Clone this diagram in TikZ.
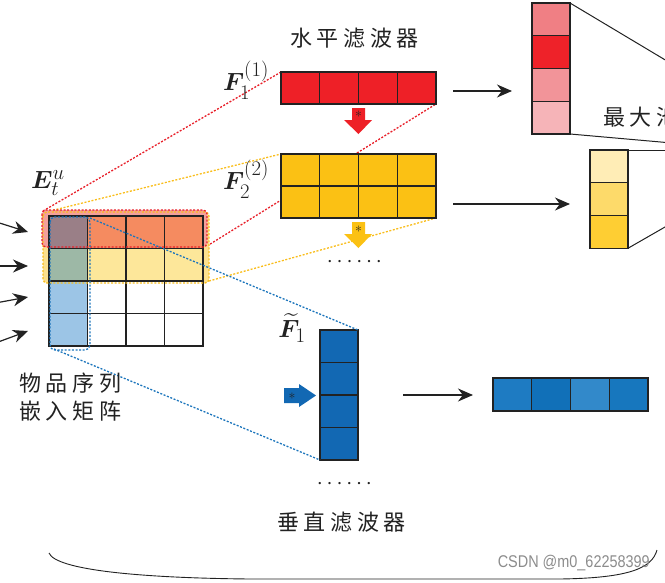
\documentclass[tikz,border=0pt]{standalone}
\usepackage{fontspec}
\usepackage{amsmath}
\usepackage{bm}
\usetikzlibrary{arrows.meta}
\DeclareMathSizes{26}{26}{21}{16}
\newfontfamily\cjk[LetterSpace=21]{Noto Sans CJK SC}
\newfontfamily\wmfont{Liberation Sans}
\newfontfamily\dotfont[LetterSpace=45]{Liberation Serif}
\definecolor{cOra}{HTML}{F58B60}
\definecolor{cPur}{HTML}{9A7F87}
\definecolor{cYel}{HTML}{FDE79A}
\definecolor{cGrn}{HTML}{9DB8A6}
\definecolor{cLbl}{HTML}{9CC5E6}
\definecolor{cRed}{HTML}{EE2027}
\definecolor{cYf}{HTML}{FBC114}
\definecolor{cBf}{HTML}{1268B3}
\definecolor{cO1}{HTML}{1E7BC2}
\definecolor{cO2}{HTML}{1170B8}
\definecolor{cO3}{HTML}{3289CA}
\definecolor{cO4}{HTML}{1777BE}
\definecolor{cR1}{HTML}{F07F84}
\definecolor{cR2}{HTML}{EE2229}
\definecolor{cR3}{HTML}{F29499}
\definecolor{cR4}{HTML}{F6B4B8}
\definecolor{cP1}{HTML}{FFEDB6}
\definecolor{cP2}{HTML}{FDDA6A}
\definecolor{cP3}{HTML}{FECE33}
\definecolor{cRd}{HTML}{E8202A}
\definecolor{cYd}{HTML}{F9BD1B}
\definecolor{cBd}{HTML}{1C75BC}
\definecolor{cRbg}{HTML}{F4A09A}
\definecolor{cYbg}{HTML}{FCE08E}
\definecolor{ink}{HTML}{222222}
\pgfdeclarelayer{bg}
\pgfsetlayers{bg,main}
\begin{document}
\begin{tikzpicture}[x=1pt,y=-1pt,
  cellbase/.style={draw=ink, line width=1.1pt, inner sep=0pt, outer sep=0pt, anchor=north west},
  ecell/.style={cellbase, minimum width=38.5pt, minimum height=32.5pt},
  hcell/.style={cellbase, minimum width=38.75pt, minimum height=32pt},
  vcell/.style={cellbase, minimum width=38pt, minimum height=32.5pt},
  ocell/.style={cellbase, minimum width=38.75pt, minimum height=33pt},
  pcell/.style={cellbase, minimum width=38pt, minimum height=32.75pt},
  dotline/.style={line width=1.3pt, dash pattern=on 2pt off 1.6pt},
  arr/.style={-{Stealth[length=15pt,width=13pt]}, line width=1.2pt, draw=ink},
  cjktext/.style={font=\fontsize{22}{28}\selectfont\cjk, text=ink, inner sep=0pt, anchor=west, align=left},
  mathlbl/.style={font=\fontsize{26}{30}\selectfont, text=ink, inner sep=0pt},
  star/.style={font=\fontsize{14}{14}\selectfont, text=ink, inner sep=0pt}
]
\useasboundingbox (0,0) rectangle (665,582);
\clip (0,0) rectangle (665,582);

% overlay box backgrounds
\fill[cYbg, rounded corners=4pt] (43,212) rectangle (209,283);
\fill[cRbg, rounded corners=4pt] (42,210) rectangle (207,247);

% embedding matrix
\node[ecell, fill=cPur] (e11) at (49,216) {};
\node[ecell, fill=cOra] (e12) at (87.5,216) {};
\node[ecell, fill=cOra] (e13) at (126,216) {};
\node[ecell, fill=cOra] (e14) at (164.5,216) {};
\node[ecell, fill=cGrn] (e21) at (49,248.5) {};
\node[ecell, fill=cYel] (e22) at (87.5,248.5) {};
\node[ecell, fill=cYel] (e23) at (126,248.5) {};
\node[ecell, fill=cYel] (e24) at (164.5,248.5) {};
\node[ecell, fill=cLbl] (e31) at (49,281) {};
\node[ecell, fill=white] (e32) at (87.5,281) {};
\node[ecell, fill=white] (e33) at (126,281) {};
\node[ecell, fill=white] (e34) at (164.5,281) {};
\node[ecell, fill=cLbl] (e41) at (49,313.5) {};
\node[ecell, fill=white] (e42) at (87.5,313.5) {};
\node[ecell, fill=white] (e43) at (126,313.5) {};
\node[ecell, fill=white] (e44) at (164.5,313.5) {};

% dotted outlines
\draw[dotline, cYd, rounded corners=4pt] (43,212) rectangle (209,283);
\draw[dotline, cRd, rounded corners=4pt] (42,210) rectangle (207,247);
\draw[dotline, cBd, rounded corners=5pt] (50,217) rectangle (90,350);
\coordinate (rNW) at (43,211);
\coordinate (rSE) at (207,246);
\coordinate (yNW) at (46,212);
\coordinate (ySE) at (209,281);
\coordinate (bNE) at (90,218);
\coordinate (bSW) at (54,349);

% horizontal filter 1
\node[hcell, fill=cRed] (h1) at (281,72) {};
\node[hcell, fill=cRed] (h2) at (319.75,72) {};
\node[hcell, fill=cRed] (h3) at (358.5,72) {};
\node[hcell, fill=cRed] (h4) at (397.25,72) {};
% horizontal filter 2
\node[hcell, fill=cYf] (f11) at (281,154) {};
\node[hcell, fill=cYf] (f12) at (319.75,154) {};
\node[hcell, fill=cYf] (f13) at (358.5,154) {};
\node[hcell, fill=cYf] (f14) at (397.25,154) {};
\node[hcell, fill=cYf] (f21) at (281,186) {};
\node[hcell, fill=cYf] (f22) at (319.75,186) {};
\node[hcell, fill=cYf] (f23) at (358.5,186) {};
\node[hcell, fill=cYf] (f24) at (397.25,186) {};

% vertical filter
\node[vcell, fill=cBf] (v1) at (320,330) {};
\node[vcell, fill=cBf] (v2) at (320,362.5) {};
\node[vcell, fill=cBf] (v3) at (320,395) {};
\node[vcell, fill=cBf] (v4) at (320,427.5) {};

% output row
\node[ocell, fill=cO1] (o1) at (493,378) {};
\node[ocell, fill=cO2] (o2) at (531.75,378) {};
\node[ocell, fill=cO3] (o3) at (570.5,378) {};
\node[ocell, fill=cO4] (o4) at (609.25,378) {};

% red column
\node[pcell, fill=cR1] (rc1) at (532,3) {};
\node[pcell, fill=cR2] (rc2) at (532,35.75) {};
\node[pcell, fill=cR3] (rc3) at (532,68.5) {};
\node[pcell, fill=cR4] (rc4) at (532,101.25) {};
% yellow column
\node[pcell, fill=cP1] (p1) at (590,150) {};
\node[pcell, fill=cP2] (p2) at (590,182.75) {};
\node[pcell, fill=cP3] (p3) at (590,215.5) {};

% projection lines (behind)
\begin{pgfonlayer}{bg}
\draw[dotline, cRd] (rNW) -- (h1.north west);
\draw[dotline, cRd] (rSE) -- (h4.south east);
\draw[dotline, cYd] (yNW) -- (f11.north west);
\draw[dotline, cYd] (ySE) -- (f24.south east);
\end{pgfonlayer}
\draw[dotline, cBd] (bNE) -- (v1.north east);
\draw[dotline, cBd] (bSW) -- (v4.south west);

% pooling lines
\coordinate (t1) at (672,64);
\coordinate (t2) at (672,143);
\coordinate (t3) at (672,150);
\coordinate (t4) at (672,223);
\draw[ink, line width=1pt] (rc1.north east) -- (t1);
\draw[ink, line width=1pt] (rc4.south east) -- (t2);
\draw[ink, line width=1pt] (p1.north east) -- (t3);
\draw[ink, line width=1pt] (p3.south east) -- (t4);

% block arrows with *
\fill[cRed] (352,108) -- (365,108) -- (365,120) -- (372,120) -- (358.5,134) -- (344,120) -- (352,120) -- cycle;
\node[star] (s1) at (358.5,116) {*};
\fill[cYf] (352,222) -- (365,222) -- (365,234) -- (372,234) -- (358.5,248) -- (344,234) -- (352,234) -- cycle;
\node[star] (s2) at (358.5,231) {*};
\fill[cBf] (284,388) -- (299,388) -- (299,384) -- (316,395.5) -- (299,407) -- (299,403) -- (284,403) -- cycle;
\node[star] (s3) at (292,398) {*};

% arrows
\draw[arr, shorten <=17pt, shorten >=20pt] ([yshift=-3pt]h4.east) -- ([yshift=-3pt]h4.east -| rc1.west);
\draw[arr, shorten <=17pt, shorten >=20pt] ([yshift=-2pt]f24.east) -- ([yshift=-2pt]f24.east -| p1.west);
\draw[arr, shorten <=45pt, shorten >=20pt] (v2.south east) -- (v2.south east -| o1.west);

% input arrows
\coordinate (a1) at (-10,220);
\coordinate (a2) at (-10,266);
\coordinate (a3) at (-10,304);
\coordinate (a4) at (-10,345);
\coordinate (b1) at (28,232);
\coordinate (b2) at (28,266);
\coordinate (b3) at (28,297);
\coordinate (b4) at (28,331);
\draw[arr] (a1) -- (b1);
\draw[arr] (a2) -- (b2);
\draw[arr] (a3) -- (b3);
\draw[arr] (a4) -- (b4);

% labels
\node[mathlbl] (lE) at (48,183) {$\bm{E}_t^{u}$};
\node[mathlbl] (lF1) at (246,80) {$\bm{F}_1^{(1)}$};
\node[mathlbl] (lF2) at (246,179) {$\bm{F}_2^{(2)}$};
\node[mathlbl] (lFt) at (292,328) {$\widetilde{\bm{F}}_1$};

\node[cjktext] (title) at (290,38.5) {水平滤波器};
\node[cjktext] (emb) at (19,397) {物品序列\\嵌入矩阵};
\node[cjktext] (vtitle) at (277,522) {垂直滤波器};
\node[cjktext] (pool) at (603,117) {最大池};

\node[font=\fontsize{14}{14}\selectfont\bfseries\dotfont, text=ink, inner sep=0pt, anchor=west] (dots1) at (328,262) {......};
\node[font=\fontsize{14}{14}\selectfont\bfseries\dotfont, text=ink, inner sep=0pt, anchor=west] (dots2) at (318,484) {......};

% bottom brace
\draw[ink, line width=0.9pt] (49,553) .. controls (56,570) and (140,578) .. (250,579) -- (560,579) .. controls (630,578) and (652,568) .. (657,550);

% watermark
\node[font=\fontsize{17}{17}\selectfont\wmfont, text=black!45, inner sep=0pt, anchor=east] (wm) at (650,563) {\scalebox{0.85}[1]{CSDN @m0\_62258399}};
\end{tikzpicture}
\end{document}
